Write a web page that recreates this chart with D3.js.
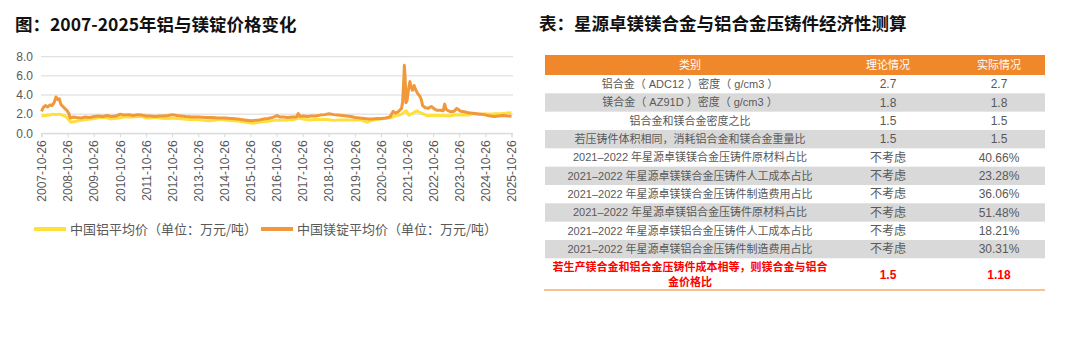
<!DOCTYPE html>
<html>
<head>
<meta charset="utf-8">
<script src="https://cdn.jsdelivr.net/npm/d3@7"></script>
<style>
  body { margin: 0; background: #fff; }
  svg { display: block; }
</style>
</head>
<body>
<div id="chart"></div>
<script>
// 中国镁锭平均价（万元/吨）
const mgDates = ["2007-10-26","2007-11-20","2007-12-20","2008-01-20","2008-02-20","2008-03-20","2008-04-20","2008-05-15","2008-06-10","2008-07-01","2008-07-25","2008-08-20","2008-09-15","2008-10-15","2008-11-10","2008-12-01","2009-01-15","2009-03-01","2009-05-01","2009-07-01","2009-09-01","2009-11-01","2010-01-01","2010-03-01","2010-05-01","2010-07-01","2010-09-01","2010-11-01","2011-01-01","2011-03-01","2011-05-01","2011-07-01","2011-09-01","2011-11-01","2012-01-01","2012-03-01","2012-05-01","2012-07-01","2012-09-01","2012-11-01","2013-01-01","2013-03-01","2013-05-01","2013-08-01","2013-11-01","2014-02-01","2014-05-01","2014-08-01","2014-11-01","2015-02-01","2015-05-01","2015-08-01","2015-11-01","2016-01-01","2016-03-01","2016-05-01","2016-07-01","2016-09-01","2016-11-01","2016-12-10","2017-02-01","2017-04-01","2017-06-01","2017-08-01","2017-08-25","2017-09-20","2017-11-01","2018-01-01","2018-03-01","2018-05-01","2018-07-01","2018-09-01","2018-11-01","2019-01-01","2019-03-01","2019-05-01","2019-07-01","2019-09-01","2019-11-01","2020-01-01","2020-03-01","2020-05-01","2020-07-01","2020-09-01","2020-11-01","2021-01-01","2021-03-01","2021-04-15","2021-05-15","2021-06-15","2021-07-15","2021-08-10","2021-08-25","2021-09-10","2021-09-18","2021-09-28","2021-10-10","2021-10-25","2021-11-15","2021-12-05","2021-12-20","2022-01-10","2022-02-01","2022-02-20","2022-03-20","2022-04-20","2022-05-10","2022-06-01","2022-07-01","2022-08-15","2022-10-01","2022-11-01","2022-12-15","2023-02-01","2023-03-15","2023-04-05","2023-04-25","2023-05-15","2023-07-01","2023-08-15","2023-09-20","2023-10-20","2023-11-15","2024-01-01","2024-03-01","2024-05-01","2024-07-01","2024-09-01","2024-11-01","2025-01-01","2025-03-01","2025-05-01","2025-07-01","2025-09-01","2025-10-26"]
const mgValues = [2.3,2.7,2.9,2.75,2.95,2.9,3.2,3.8,3.5,3.6,3.0,2.8,2.6,2.4,2.1,1.6,1.7,1.65,1.6,1.7,1.65,1.75,1.8,1.75,1.85,1.75,1.8,2.0,1.9,1.95,1.85,1.95,1.9,1.8,1.8,1.75,1.8,1.8,1.85,1.95,1.85,1.8,1.75,1.7,1.7,1.65,1.65,1.6,1.6,1.55,1.5,1.4,1.3,1.35,1.4,1.5,1.55,1.65,1.85,1.7,1.7,1.65,1.7,1.7,2.05,1.75,1.8,1.75,1.8,1.8,1.9,1.95,2.05,1.95,1.9,1.85,1.8,1.75,1.65,1.6,1.55,1.5,1.5,1.55,1.55,1.6,1.7,2.3,2.1,2.2,2.4,2.6,3.3,5.5,7.1,6.0,3.2,3.4,4.6,5.4,4.8,4.5,5.0,4.6,4.2,3.9,3.6,2.9,2.7,2.6,2.8,2.6,2.4,2.4,2.35,3.05,2.5,2.4,2.25,2.3,2.6,2.45,2.3,2.25,2.15,2.1,2.05,2.0,1.9,1.8,1.75,1.8,1.85,1.8,1.78]

// 中国铝平均价（万元/吨）
const alDates = ["2007-10-26","2007-12-15","2008-02-15","2008-04-01","2008-05-15","2008-07-01","2008-08-15","2008-10-01","2008-11-01","2008-12-10","2009-01-20","2009-03-15","2009-05-15","2009-07-15","2009-09-15","2009-11-15","2010-01-15","2010-04-15","2010-06-15","2010-08-15","2010-10-15","2010-12-15","2011-03-01","2011-05-01","2011-07-01","2011-09-01","2011-11-01","2012-01-01","2012-03-01","2012-05-01","2012-07-01","2012-09-01","2012-11-01","2013-01-01","2013-04-01","2013-07-01","2013-10-01","2014-01-01","2014-04-01","2014-07-01","2014-09-01","2014-12-01","2015-03-01","2015-06-01","2015-09-01","2015-11-20","2016-01-15","2016-04-01","2016-07-01","2016-10-01","2017-01-01","2017-04-01","2017-07-01","2017-09-01","2017-11-01","2018-02-01","2018-04-15","2018-07-01","2018-10-01","2019-01-01","2019-04-01","2019-07-01","2019-10-01","2020-01-01","2020-03-01","2020-04-15","2020-06-15","2020-09-01","2020-12-01","2021-02-01","2021-04-01","2021-06-01","2021-08-01","2021-09-15","2021-10-15","2021-11-20","2022-01-15","2022-03-10","2022-04-20","2022-06-15","2022-08-01","2022-10-01","2022-12-01","2023-03-01","2023-06-01","2023-09-01","2023-12-01","2024-03-01","2024-05-15","2024-08-01","2024-10-15","2025-01-01","2025-03-15","2025-06-01","2025-08-01","2025-10-26"]
const alValues = [1.8,1.85,1.9,2.0,1.95,2.0,1.9,1.75,1.5,1.15,1.2,1.3,1.35,1.45,1.5,1.55,1.65,1.65,1.5,1.55,1.6,1.7,1.7,1.7,1.75,1.75,1.6,1.6,1.65,1.6,1.55,1.55,1.6,1.55,1.5,1.45,1.45,1.35,1.3,1.4,1.45,1.35,1.3,1.25,1.15,1.05,1.1,1.2,1.25,1.35,1.35,1.4,1.45,1.6,1.5,1.4,1.45,1.45,1.45,1.35,1.4,1.4,1.4,1.4,1.3,1.15,1.35,1.45,1.55,1.6,1.7,1.85,1.95,2.2,2.35,1.9,2.1,2.35,2.2,2.0,1.85,1.85,1.85,1.85,1.8,1.9,1.9,1.9,2.05,1.95,2.05,2.0,2.05,2.05,2.1,2.15]

const tickDates = ["2007-10-26","2008-10-26","2009-10-26","2010-10-26","2011-10-26","2012-10-26","2013-10-26","2014-10-26","2015-10-26","2016-10-26","2017-10-26","2018-10-26","2019-10-26","2020-10-26","2021-10-26","2022-10-26","2023-10-26","2024-10-26","2025-10-26"]
const yTicks = [0, 2, 4, 6, 8]
const seriesNames = ["中国铝平均价（单位：万元/吨）", "中国镁锭平均价（单位：万元/吨）"]

// 表格
const tableHeader = ["类别", "理论情况", "实际情况"]
const rowLabels = [
  "铝合金（ ADC12 ）密度（ g/cm3 ）",
  "镁合金（ AZ91D ）密度（ g/cm3 ）",
  "铝合金和镁合金密度之比",
  "若压铸件体积相同，消耗铝合金和镁合金重量比",
  "2021–2022 年星源卓镁镁合金压铸件原材料占比",
  "2021–2022 年星源卓镁镁合金压铸件人工成本占比",
  "2021–2022 年星源卓镁镁合金压铸件制造费用占比",
  "2021–2022 年星源卓镁铝合金压铸件原材料占比",
  "2021–2022 年星源卓镁铝合金压铸件人工成本占比",
  "2021–2022 年星源卓镁铝合金压铸件制造费用占比"
]
const theoryValues = ["2.7", "1.8", "1.5", "1.5", "不考虑", "不考虑", "不考虑", "不考虑", "不考虑", "不考虑"]
const actualValues = ["2.7", "1.8", "1.5", "1.5", "40.66%", "23.28%", "36.06%", "51.48%", "18.21%", "30.31%"]
const lastRowLabel = ["若生产镁合金和铝合金压铸件成本相等，则镁合金与铝合", "金价格比"]
const lastRowValues = ["1.5", "1.18"]

const CJK = "'Noto Sans CJK SC', sans-serif"
const MIX = "'Liberation Sans', 'Noto Sans CJK SC', sans-serif"
const textGray = "#595959"
const yellow = "#FFE03A"
const orange = "#F1983A"

const svg = d3.select("#chart").append("svg")
  .attr("width", 1080)
  .attr("height", 356)

// ---------- left: line chart ----------
svg.append("text")
  .attr("x", 15).attr("y", 31)
  .attr("font-family", CJK).attr("font-weight", "bold")
  .attr("font-size", 17.5).attr("fill", "#111")
  .text("图：2007-2025年铝与镁锭价格变化")

const parse = d3.timeParse("%Y-%m-%d")
const x = d3.scaleTime()
  .domain([parse(tickDates[0]), parse(tickDates[tickDates.length - 1])])
  .range([41.5, 511.5])
const y = d3.scaleLinear().domain([0, 8]).range([133.3, 56.7])

const grid = svg.append("g")
yTicks.forEach(v => {
  grid.append("line")
    .attr("x1", 41).attr("x2", 513)
    .attr("y1", y(v)).attr("y2", y(v))
    .attr("stroke", "#d9d9d9").attr("stroke-width", 1)
  grid.append("text")
    .attr("x", 33).attr("y", y(v)).attr("dy", "0.36em")
    .attr("text-anchor", "end")
    .attr("font-family", MIX).attr("font-size", 12).attr("fill", textGray)
    .text(v.toFixed(1))
})

const xAxis = svg.append("g")
  .attr("transform", `translate(0,${y(0)})`)
  .call(d3.axisBottom(x)
    .tickValues(tickDates.map(parse))
    .tickSize(4)
    .tickFormat(d3.timeFormat("%Y-%m-%d")))
xAxis.select(".domain").attr("stroke", "#d9d9d9")
xAxis.selectAll(".tick line").attr("stroke", "#d9d9d9")
xAxis.selectAll(".tick text")
  .attr("font-family", MIX).attr("font-size", 12).attr("fill", textGray)
  .attr("transform", "rotate(-90)")
  .attr("text-anchor", "end")
  .attr("x", -7).attr("y", 0).attr("dy", "0.35em")

const line = d3.line()
  .x(d => x(d.date))
  .y(d => y(d.value))

const alData = alDates.map((d, i) => ({ date: parse(d), value: alValues[i] }))
const mgData = mgDates.map((d, i) => ({ date: parse(d), value: mgValues[i] }))

svg.append("path")
  .datum(alData)
  .attr("fill", "none").attr("stroke", yellow)
  .attr("stroke-width", 3).attr("stroke-linejoin", "round")
  .attr("d", line)

svg.append("path")
  .datum(mgData)
  .attr("fill", "none").attr("stroke", orange)
  .attr("stroke-width", 3).attr("stroke-linejoin", "round")
  .attr("d", line)

// legend
const legend = svg.append("g")
const legendItems = [
  { name: seriesNames[0], color: yellow, x: 34 },
  { name: seriesNames[1], color: orange, x: 261 }
]
legendItems.forEach(it => {
  legend.append("line")
    .attr("x1", it.x).attr("x2", it.x + 32)
    .attr("y1", 229).attr("y2", 229)
    .attr("stroke", it.color).attr("stroke-width", 4)
  legend.append("text")
    .attr("x", it.x + 36).attr("y", 229).attr("dy", "0.36em")
    .attr("font-family", CJK).attr("font-size", 13).attr("fill", textGray)
    .text(it.name)
})

// ---------- right: table ----------
svg.append("text")
  .attr("x", 539).attr("y", 30)
  .attr("font-family", CJK).attr("font-weight", "bold")
  .attr("font-size", 17.5).attr("fill", "#111")
  .text("表：星源卓镁镁合金与铝合金压铸件经济性测算")

const tLeft = 545, tRight = 1045
const colCenters = [690, 888, 999]
const headerTop = 55, headerH = 20, rowH = 18.33
const tOrange = "#F0872A"

const table = svg.append("g")
table.append("rect")
  .attr("x", tLeft).attr("y", headerTop)
  .attr("width", tRight - tLeft).attr("height", headerH)
  .attr("fill", tOrange)
tableHeader.forEach((h, i) => {
  table.append("text")
    .attr("x", colCenters[i]).attr("y", headerTop + headerH / 2).attr("dy", "0.36em")
    .attr("text-anchor", "middle")
    .attr("font-family", CJK).attr("font-size", 11).attr("fill", "#fff")
    .text(h)
})

rowLabels.forEach((label, i) => {
  const top = headerTop + headerH + i * rowH
  if (i % 2 === 1) {
    table.append("rect")
      .attr("x", tLeft).attr("y", top)
      .attr("width", tRight - tLeft).attr("height", rowH)
      .attr("fill", "#d9d9d9")
  }
  const cells = [label, theoryValues[i], actualValues[i]]
  cells.forEach((c, j) => {
    table.append("text")
      .attr("x", colCenters[j]).attr("y", top + rowH / 2).attr("dy", "0.36em")
      .attr("text-anchor", "middle")
      .attr("font-family", MIX).attr("font-size", j === 0 ? 11 : 12).attr("fill", textGray)
      .text(c)
  })
})

const lastTop = headerTop + headerH + rowLabels.length * rowH
lastRowLabel.forEach((t, k) => {
  table.append("text")
    .attr("x", colCenters[0]).attr("y", lastTop + 9 + k * 15).attr("dy", "0.36em")
    .attr("text-anchor", "middle")
    .attr("font-family", CJK).attr("font-weight", "bold")
    .attr("font-size", 11).attr("fill", "#FF0000")
    .text(t)
})
lastRowValues.forEach((v, j) => {
  table.append("text")
    .attr("x", colCenters[j + 1]).attr("y", lastTop + 16).attr("dy", "0.36em")
    .attr("text-anchor", "middle")
    .attr("font-family", MIX).attr("font-weight", "bold")
    .attr("font-size", 12).attr("fill", "#FF0000")
    .text(v)
})
table.append("line")
  .attr("x1", tLeft - 1).attr("x2", tRight)
  .attr("y1", 290).attr("y2", 290)
  .attr("stroke", tOrange).attr("stroke-width", 1.2)
</script>
</body>
</html>
